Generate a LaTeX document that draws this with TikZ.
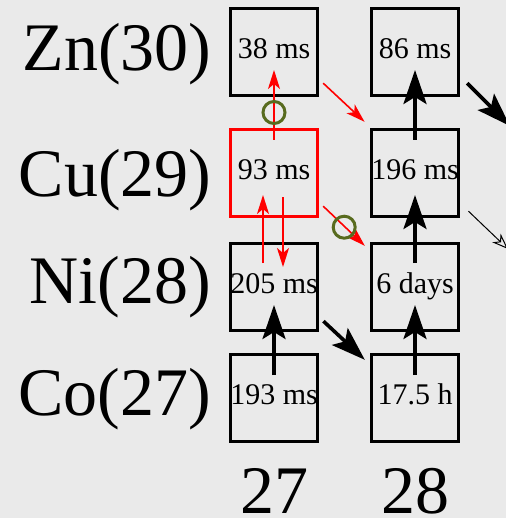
\documentclass[tikz,border=0pt]{standalone}
\usepackage{fontspec}
\setmainfont{Liberation Serif}
\usepackage{tikz}
\usetikzlibrary{arrows.meta,calc}
\definecolor{bg}{RGB}{234,234,234}
\definecolor{hot}{RGB}{255,0,0}
\definecolor{ringc}{RGB}{88,107,30}
\tikzset{
  cell/.style={draw=black, line width=1.7pt, fill=none, minimum width=43.5pt, minimum height=43.5pt,
    inner sep=0pt, text height=10pt, text depth=3.5pt, font=\fontsize{15}{17}\selectfont},
  hotcell/.style={cell, draw=hot},
  elem/.style={anchor=base east, inner sep=0pt, font=\fontsize{34}{40}\selectfont},
  nlbl/.style={anchor=base, inner sep=0pt, text height=23pt, text depth=0pt, font=\fontsize{34}{40}\selectfont},
  decay/.style={draw=black, line width=1.8pt, -{Stealth[length=17pt,width=11.5pt,inset=3.5pt]}},
  hotflow/.style={draw=hot, line width=0.8pt, -{Stealth[length=9.5pt,width=6pt,inset=2.5pt]}},
  weak/.style={draw=black, line width=0.5pt, -{Stealth[open,length=8pt,width=6pt,inset=2.5pt]}},
  ring/.style={circle, draw=ringc, line width=1.5pt, minimum size=11pt, inner sep=0pt}
}

\begin{document}
\begin{tikzpicture}[x=0.5pt,y=-0.5pt]
  \fill[bg] (0,0) rectangle (506,518);
  \useasboundingbox (0,0) rectangle (506,518);
  % nuclide boxes
  \foreach \name/\x/\y/\t/\sty in {zn27/274/52/{38 ms}/cell, cu27/274/173/{93 ms}/hotcell,
      ni27/274/287/{205 ms}/cell, co27/274/398/{193 ms}/cell, zn28/415/52/{86 ms}/cell,
      cu28/415/173/{196 ms}/cell, ni28/415/287/{6 days}/cell, co28/415/398/{17.5 h}/cell}{
    \node[\sty] (\name) at (\x,\y) {\t};
  }
  % element labels and neutron numbers
  \foreach \el/\t/\dy in {zn/{Zn(30)}/19, cu/{Cu(29)}/24, ni/{Ni(28)}/16, co/{Co(27)}/17}
    \node[elem] (lbl\el) at ($(\el27.west)+(-17,\dy)$) {\t};
  \node[nlbl] (n27) at ($(co27.south)+(0,70)$) {27};
  \node[nlbl] (n28) at ($(co28.south)+(0,70)$) {28};
  % decays
  \draw[decay] ($(co27.center)+(0,-23)$) -- ($(ni27.center)+(0,18)$);
  \draw[decay] ($(co28.center)+(0,-23)$) -- ($(ni28.center)+(0,18)$);
  \draw[decay] ($(ni28.center)+(0,-24)$) -- ($(cu28.center)+(0,22)$);
  \draw[decay] ($(cu28.center)+(0,-33)$) -- ($(zn28.center)+(0,18)$);
  \draw[decay] ($(ni27.south east)+(4,-11)$) -- ($(co28.north west)+(-5,7)$);
  \coordinate (offzn) at (510,126);
  \coordinate (offcu) at (508,249);
  \draw[decay] ($(zn28.south east)+(7,-14)$) -- (offzn);
  \draw[weak] ($(cu28.south east)+(8,-7)$) -- (offcu);
  % red paths
  \draw[hotflow] ($(cu27.center)+(0,-33)$) -- ($(zn27.center)+(0,18)$);
  \draw[hotflow] ($(ni27.center)+(-11,-24)$) -- ($(cu27.center)+(-11,22)$);
  \draw[hotflow] ($(cu27.center)+(9,24)$) -- ($(ni27.center)+(9,-20)$);
  \draw[hotflow] ($(zn27.south east)+(4,-14)$) -- ($(cu28.north west)+(-5,-6)$);
  \draw[hotflow] ($(cu27.south east)+(4,-12)$) -- ($(ni28.north west)+(-5,4)$);
  \node[ring] (ringa) at ($(zn27.south)!0.5!(cu27.north)$) {};
  \node[ring] (ringb) at ($(cu27.south east)+(25,9)$) {};
\end{tikzpicture}
\end{document}
